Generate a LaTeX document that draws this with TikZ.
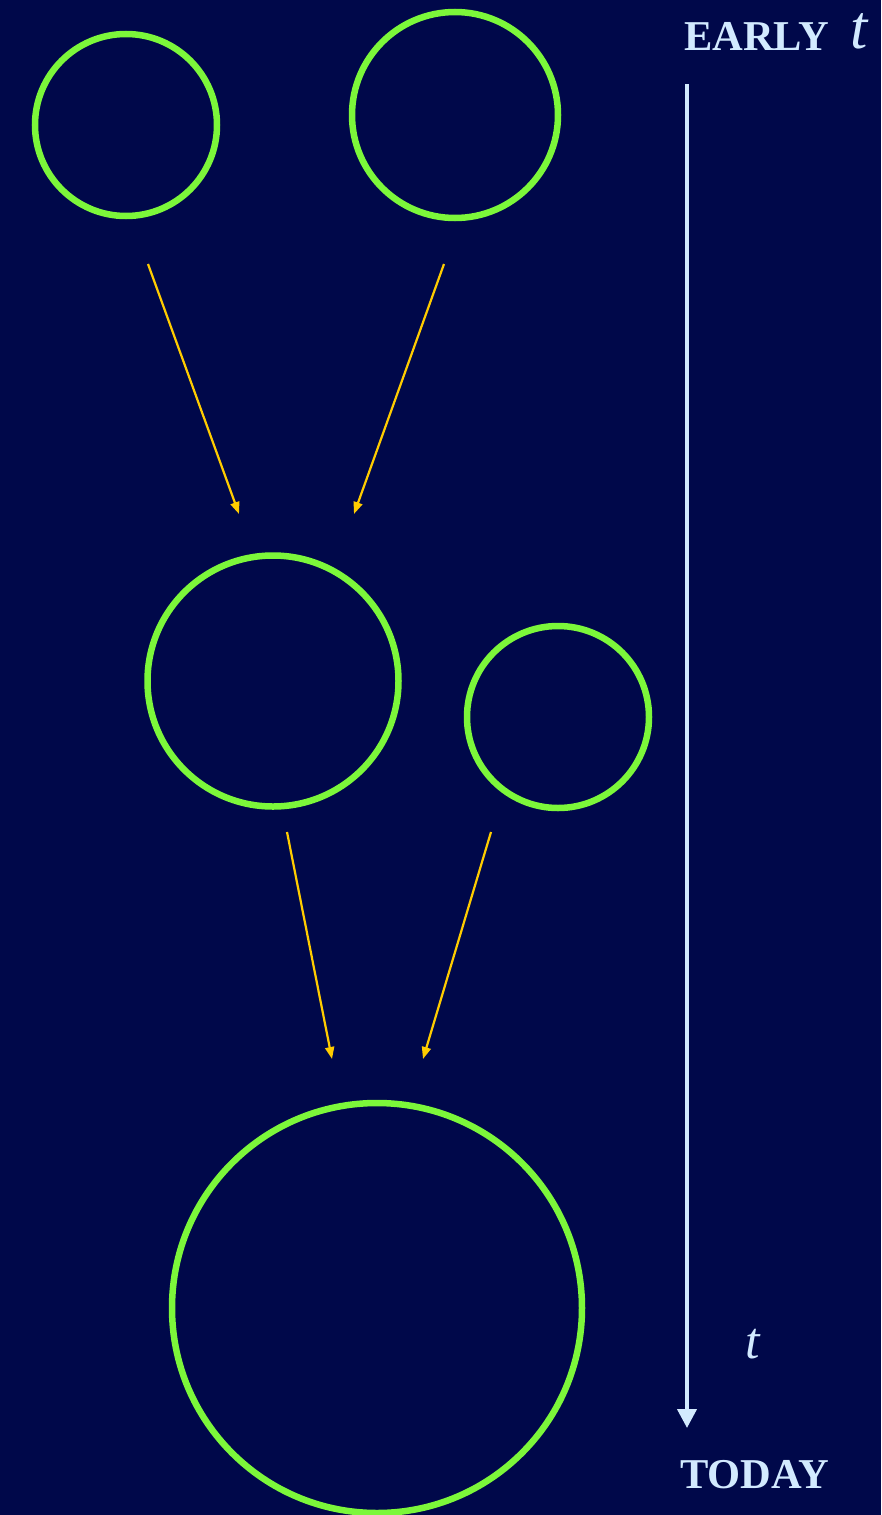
\documentclass[tikz,border=0pt]{standalone}
\usepackage{fontspec}
\setmainfont{Liberation Serif}
\usetikzlibrary{arrows.meta}
\definecolor{bg}{HTML}{00084A}
\definecolor{ring}{HTML}{7CF73A}
\definecolor{arr}{HTML}{FFCC00}
\definecolor{lbl}{HTML}{D2EAFF}
\tikzset{
  ring/.style={circle,draw=ring,line width=6.5pt,minimum size=#1,inner sep=0pt},
  merge/.style={draw=arr,line width=2.2pt,-{Triangle[length=12pt,width=9pt]}},
  timeline/.style={draw=lbl,line width=4pt,-{Triangle[length=19pt,width=19pt]}},
  word/.style={text=lbl,font=\fontsize{42.5}{42.5}\selectfont\bfseries,inner sep=0pt},
  tvar/.style={text=lbl,font=\fontsize{#1}{#1}\selectfont\itshape,inner sep=0pt}
}
\begin{document}
\begin{tikzpicture}[x=1pt,y=-1pt]
\fill[bg] (0,0) rectangle (881,1515);
\useasboundingbox (0,0) rectangle (881,1515);
% circles
\node[ring=182pt] (c1) at (126,125) {};
\node[ring=206pt] (c2) at (455,115) {};
\node[ring=251pt] (c3) at (273,681) {};
\node[ring=182pt] (c4) at (558,717) {};
\node[ring=410pt] (c5) at (377,1308) {};
% arrow ends
\coordinate (a1s) at (148,264);
\coordinate (a1e) at (239,514);
\coordinate (a2s) at (444,264);
\coordinate (a2e) at (354,514);
\coordinate (a3s) at (287,832);
\coordinate (a3e) at (332,1059);
\coordinate (a4s) at (491,832);
\coordinate (a4e) at (423,1059);
\draw[merge] (a1s) -- (a1e);
\draw[merge] (a2s) -- (a2e);
\draw[merge] (a3s) -- (a3e);
\draw[merge] (a4s) -- (a4e);
% timeline
\coordinate (ts) at (687,84);
\coordinate (te) at (687,1428);
\draw[timeline] (ts) -- (te);
\node[word,anchor=base west] (early) at (684,50) {EARLY};
\node[tvar=62,anchor=base west] (t1) at (850,48) {t};
\node[tvar=52,anchor=base west] (t2) at (745,1358) {t};
\node[word,anchor=base west] (today) at (680,1488) {TODAY};
\end{tikzpicture}
\end{document}
